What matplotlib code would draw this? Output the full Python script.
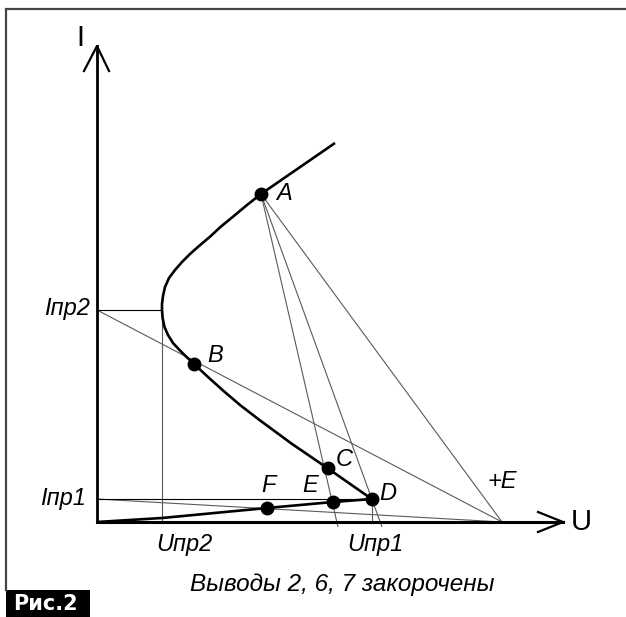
import numpy as np
import matplotlib
matplotlib.use("Agg")
import matplotlib.pyplot as plt
from matplotlib.patches import Rectangle

# I-V characteristic (U, I in drawing units, origin at the axes crossing)
upper_u = [238, 164, 150, 136, 124, 113, 102, 93, 85, 78, 72, 68, 66, 65, 65,
           65.6, 67.5, 71, 76, 82, 89, 97, 111, 126.6, 143, 162.5, 194.4, 230.7, 274.7]
upper_i = [379, 328, 317, 305.3, 295.5, 285.3, 276, 268, 260, 252, 244, 235, 226, 218, 212,
           204, 195, 187, 179, 172.5, 165.5, 158, 145, 131, 117, 102, 78.5, 53.7, 23]
lower_u = [0, 65, 170, 236, 275]
lower_i = [0, 4, 14, 20, 23]

# operating points
pt_names = ["A", "B", "C", "D", "E", "F"]
pt_u = [164, 97, 231, 275, 236, 170]
pt_i = [328, 158, 54, 23, 20, 14]

# supply voltage and reference levels
E_supply = 405
U_pr2, I_pr2 = 65, 212
U_pr1, I_pr1 = 275, 23

# load lines from A extended just under the U axis
a_ends_u = [241, 285]
a_ends_i = [-5, -5]

W, H = 626, 617
X0, Y0 = 97, 522  # pixel position of the origin

fig = plt.figure(figsize=(W / 100, H / 100), dpi=100)
ax = fig.add_axes([0, 0, 1, 1])
ax.set_xlim(-X0, W - X0)
ax.set_ylim(Y0 - H, Y0)
ax.axis("off")

label_font = dict(family="Liberation Sans", style="italic", fontsize=17)
thin = dict(color="#5a5a5a", lw=0.8, solid_capstyle="butt")

# frame around the figure
ax.plot([5.5 / W, 5.5 / W, 1], [1 - 590 / H, 1 - 9 / H, 1 - 9 / H],
        transform=ax.transAxes, color="#444", lw=1.6, solid_joinstyle="miter")

# load lines
ax.plot([0, E_supply], [I_pr2, 0], **thin)
ax.plot([0, E_supply], [I_pr1, 0], **thin)
ax.plot([pt_u[0], E_supply], [pt_i[0], 0], **thin)
for u_end, i_end in zip(a_ends_u, a_ends_i):
    ax.plot([pt_u[0], u_end], [pt_i[0], i_end], **thin)

# reference levels
ax.plot([0, U_pr2], [I_pr2, I_pr2], color="black", lw=0.8)
ax.plot([U_pr2, U_pr2], [I_pr2, 0], **thin)
ax.plot([0, U_pr1], [I_pr1, I_pr1], color="black", lw=0.8)
ax.plot([U_pr1, U_pr1], [I_pr1, 0], **thin)

# characteristic branches
ax.plot(upper_u, upper_i, color="black", lw=1.9, solid_capstyle="butt",
        solid_joinstyle="round")
ax.plot(lower_u, lower_i, color="black", lw=1.9, solid_capstyle="butt")

# axes with open arrow heads
ax.plot([0, 0], [0, 476], color="black", lw=2.0)
ax.plot([-13, 0, 12], [451, 476, 451], color="black", lw=1.6)
ax.plot([0, 466], [0, 0], color="black", lw=2.2)
ax.plot([441, 466, 441], [10, 0, -10], color="black", lw=1.6)
ax.text(-17, 484, "I", family="Liberation Sans", fontsize=21, ha="center", va="center")
ax.text(484, 0, "U", family="Liberation Sans", fontsize=21, ha="center", va="center")

ax.plot(pt_u, pt_i, "o", color="black", ms=9, zorder=5)

# point labels
offsets = {"A": (23, 1), "B": (21.5, 8.5), "C": (16, 8), "D": (16, 6),
           "E": (-23, 16), "F": (1, 22)}
for name, u, i in zip(pt_names, pt_u, pt_i):
    dx, dy = offsets[name]
    ax.text(u + dx, i + dy, name, ha="center", va="center", **label_font)
ax.text(E_supply, 40, "+E", ha="center", va="center", **label_font)

ax.text(-7, I_pr2 + 2, "Iпр2", ha="right", va="center", **label_font)
ax.text(-11, I_pr1, "Iпр1", ha="right", va="center", **label_font)
ax.text(U_pr2 + 22.6, -22, "Uпр2", ha="center", va="center", **label_font)
ax.text(U_pr1 + 3, -22, "Uпр1", ha="center", va="center", **label_font)

ax.text(245, -63, "Выводы 2, 6, 7 закорочены", ha="center", va="center",
        family="Liberation Sans", style="italic", fontsize=17.5)

# figure tag
ax.add_patch(Rectangle((5.5 / W, 0), 84.5 / W, 27 / H, transform=ax.transAxes,
                       facecolor="black", edgecolor="none"))
ax.text(13 / W, 13.5 / H, "Рис.2", transform=ax.transAxes, ha="left", va="center",
        family="DejaVu Sans", fontweight="bold", fontsize=15, color="white")

fig.savefig("out.png", dpi=100)
